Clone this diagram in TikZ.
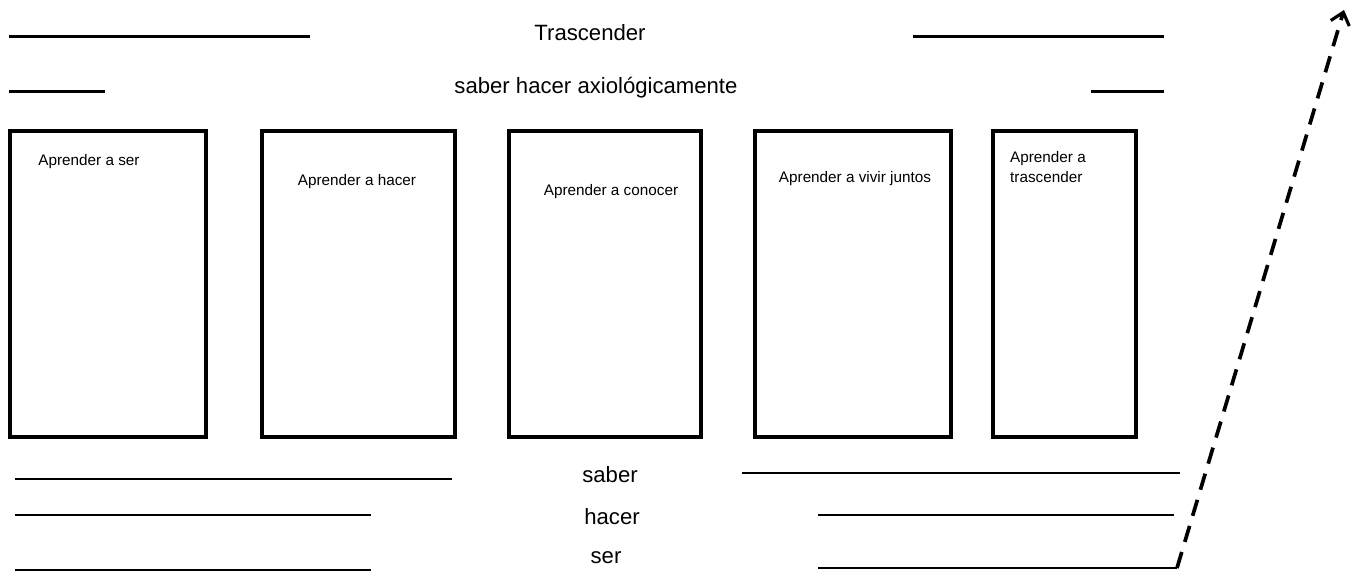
\documentclass[tikz,border=0pt]{standalone}
\usepackage{fontspec}
\setmainfont{Liberation Sans}
\usetikzlibrary{fit,arrows.meta}
\begin{document}
\begin{tikzpicture}[x=0.02cm,y=-0.02cm]
	\tikzset{
		rayatop/.style={line width=1.7pt},
		rayabot/.style={line width=1.1pt},
		caja/.style={draw,line width=2.8pt,inner sep=0pt},
		titulo/.style={font=\fontsize{12.6}{14}\selectfont},
		textocaja/.style={font=\fontsize{8.7}{11.5}\selectfont,align=left},
		flecha/.style={line width=2.1pt,dash pattern=on 9.5pt off 6pt,-{Straight Barb[length=6.5pt,width=11pt,line width=1.8pt]}}
	}
	\useasboundingbox (0,0) rectangle (1357,573);
	%%%Encabezados
	\path (590,33) node[titulo] (trasc) {Trascender};
	\path (596,88) node[titulo] (axio) {saber hacer axiológicamente};
	\draw[rayatop] (9,37) -- (310,37);
	\draw[rayatop] (913,37) -- (1164,37);
	\draw[rayatop] (9,92) -- (105,92);
	\draw[rayatop] (1091,92) -- (1164,92);
	%%%Cajas
	\node[caja,fit={(10,131) (206,437)}] (ser) {};
	\node[caja,fit={(262,131) (455,437)}] (hacer) {};
	\node[caja,fit={(509,131) (701,437)}] (conocer) {};
	\node[caja,fit={(755,131) (951,437)}] (vivir) {};
	\node[caja,fit={(993,131) (1136,437)}] (trascender) {};
	\path (89,162) node[textocaja] (tser) {Aprender a ser};
	\path (357,182) node[textocaja] (thacer) {Aprender a hacer};
	\path (611,192) node[textocaja] (tconocer) {Aprender a conocer};
	\path (855,179) node[textocaja] (tvivir) {Aprender a vivir juntos};
	\path (1004,167) node[textocaja,anchor=west] (ttrasc) {Aprender a\\trascender};
	%%%Pie
	\path (610,475) node[titulo] (saber) {saber};
	\path (612,517) node[titulo] (hac) {hacer};
	\path (606,558) node[titulo] (se) {ser};
	\draw[rayabot] (15,479) -- (452,479);
	\draw[rayabot] (742,473) -- (1180,473);
	\draw[rayabot] (15,515) -- (371,515);
	\draw[rayabot] (818,515) -- (1174,515);
	\draw[rayabot] (15,570) -- (371,570);
	\draw[rayabot] (818,568) -- (1177,568) coordinate (inicio);
	%%%Flecha
	\coordinate (punta) at (1344,10);
	\draw[flecha] (inicio) -- (punta);
\end{tikzpicture}
\end{document}
